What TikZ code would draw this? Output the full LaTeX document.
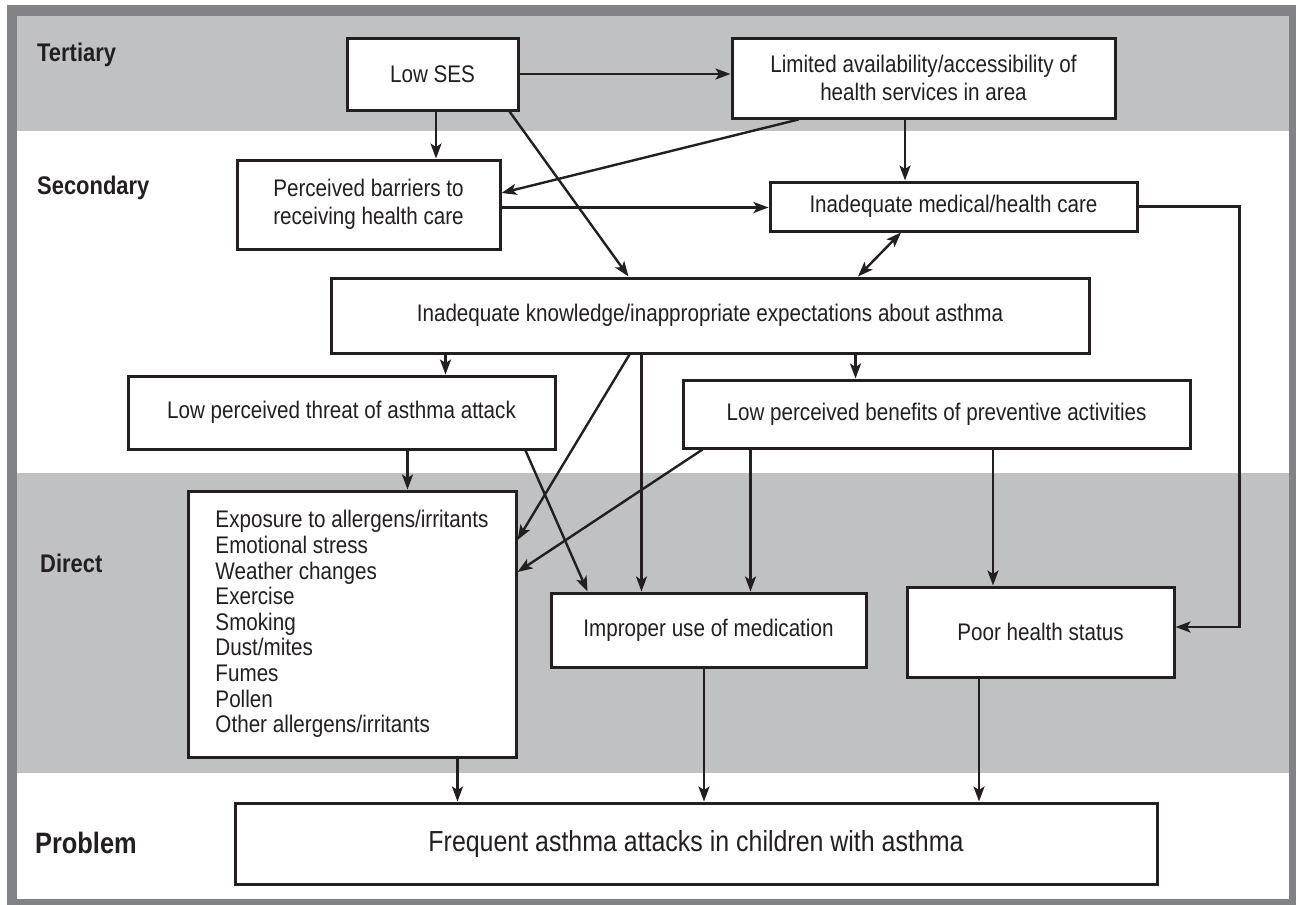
\documentclass[tikz,border=0pt]{standalone}
\usepackage{fontspec}
\setmainfont{Liberation Sans}[FakeStretch=0.86]
\usetikzlibrary{arrows.meta,calc}
\definecolor{ink}{HTML}{231F20}
\definecolor{framegray}{HTML}{808285}
\definecolor{bandgray}{HTML}{C0C1C3}
\tikzset{
  box/.style={draw=ink, line width=3pt, fill=white, text=ink, inner sep=0pt,
              align=center, font=\fontsize{24}{27.5}\selectfont},
  lvl/.style={anchor=west, text=ink, inner sep=0pt, font=\bfseries\fontsize{25.5}{28}\selectfont},
  tip/.tip={Stealth[length=15pt,width=11pt,inset=3.5pt]},
  arr/.style={draw=ink, line width=2.4pt, -tip},
  darr/.style={draw=ink, line width=2.4pt, tip-tip},
}
\begin{document}
\begin{tikzpicture}[x=1pt,y=-1pt]
\useasboundingbox (0,0) rectangle (1296,905);

% frame and level bands
\fill[framegray] (7,5) rectangle (1296,905);
\fill[white] (17,16) rectangle (1289,899);
\fill[bandgray] (17,16) rectangle (1289,131);
\fill[bandgray] (17,473) rectangle (1289,773);

% level labels
\node[lvl] (lter) at (37,55) {Tertiary};
\node[lvl] (lsec) at (37,188) {Secondary};
\node[lvl] (ldir) at (40,563) {Direct};
\node[lvl, font=\bfseries\fontsize{29.5}{32}\selectfont] (lpro) at (35,843) {Problem};

% boxes
\node[box, minimum width=171pt, minimum height=72pt] (ses) at (432.5,74) {Low SES};
\node[box, minimum width=383pt, minimum height=80pt] (lim) at (923.5,78)
  {Limited availability/accessibility of\\health services in area};
\node[box, minimum width=263pt, minimum height=89pt] (bar) at (368.5,204.5)
  {Perceived barriers to\\receiving health care};
\node[box, minimum width=367pt, minimum height=49pt] (med) at (953.5,206.5)
  {Inadequate medical/health care};
\node[box, minimum width=758pt, minimum height=75pt] (kno) at (710,315.5)
  {Inadequate knowledge/inappropriate expectations about asthma};
\node[box, minimum width=427pt, minimum height=73pt] (thr) at (341.5,412.5)
  {Low perceived threat of asthma attack};
\node[box, minimum width=507pt, minimum height=68pt] (ben) at (936.5,414)
  {Low perceived benefits of preventive activities};
\node[box, minimum width=328pt, minimum height=266pt, align=left,
      font=\fontsize{24}{25.6}\selectfont] (exp) at (352,624)
  {Exposure to allergens/irritants\\Emotional stress\\Weather changes\\Exercise\\
   Smoking\\Dust/mites\\Fumes\\Pollen\\Other allergens/irritants};
\node[box, minimum width=315pt, minimum height=74pt] (imp) at (708.5,630)
  {Improper use of medication};
\node[box, minimum width=267pt, minimum height=90pt] (poor) at (1040.5,632)
  {Poor health status};
\node[box, minimum width=922pt, minimum height=81pt,
      font=\fontsize{29}{32}\selectfont] (prob) at (696,843.5)
  {Frequent asthma attacks in children with asthma};

% connector start points
\coordinate (s1) at ([xshift=3.5]ses.south);
\coordinate (b1) at ([yshift=-3]bar.east);
\coordinate (l1) at ([xshift=-18.5]lim.south);
\coordinate (k1) at ([xshift=116]kno.south west);
\coordinate (k2) at ([xshift=312]kno.south west);
\coordinate (k3) at ([xshift=526]kno.south west);
\coordinate (t1) at ([xshift=281]thr.south west);
\coordinate (n1) at ([xshift=69]ben.south west);
\coordinate (n2) at ([xshift=311.5]ben.south west);
\coordinate (e1) at ([xshift=-60]exp.south east);
\coordinate (i1) at ([xshift=-4.5]imp.south);
\coordinate (p1) at ([xshift=-61.5]poor.south);
\coordinate (p2) at ([yshift=5]poor.east);

% connectors
\draw[arr] (ses.east) -- (ses.east -| lim.west);
\draw[arr] (s1) -- (s1 |- bar.north);
\draw[arr] ([xshift=-10]ses.south east) -- ([xshift=299]kno.north west);
\draw[arr] ([xshift=68]lim.south west) -- ([yshift=11.5]bar.east);
\draw[arr] (b1) -- (b1 -| med.west);
\draw[arr] (l1) -- (l1 |- med.north);
\draw[darr] ([xshift=-52.5]med.south) -- ([xshift=148]kno.north);
\draw[arr] (k1) -- (k1 |- thr.north);
\draw[arr] ([xshift=300]kno.south west) -- ([yshift=84]exp.east);
\draw[arr] (k2) -- (k2 |- imp.north);
\draw[arr] (k3) -- (k3 |- ben.north);
\draw[arr] (t1) -- (t1 |- exp.north);
\draw[arr] ([xshift=-31]thr.south east) -- ([xshift=38]imp.north west);
\draw[arr] ([xshift=21]ben.south west) -- ([yshift=52]exp.east);
\draw[arr] (n1) -- (n1 |- imp.north);
\draw[arr] (n2) -- (n2 |- poor.north);
\draw[arr] (med.east) -- ++(101,0) |- (p2);
\draw[arr] (e1) -- (e1 |- prob.north);
\draw[arr] (i1) -- (i1 |- prob.north);
\draw[arr] (p1) -- (p1 |- prob.north);
\end{tikzpicture}
\end{document}
